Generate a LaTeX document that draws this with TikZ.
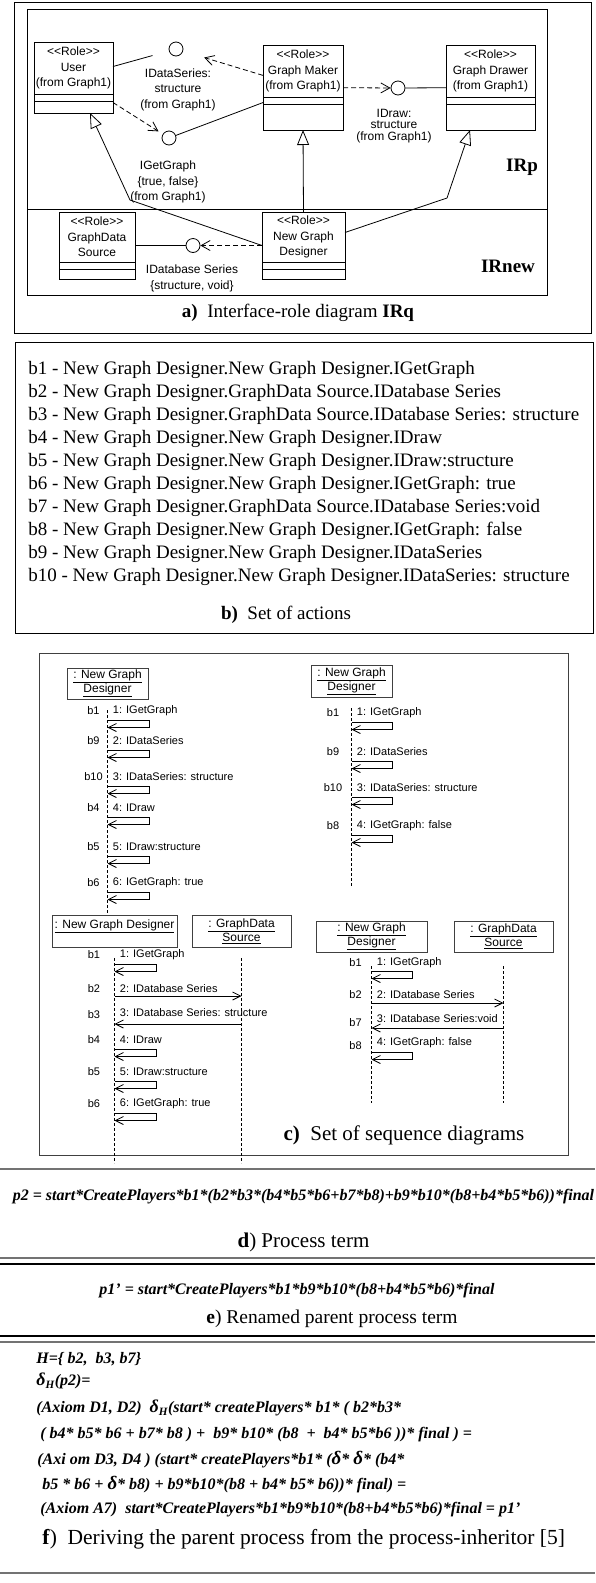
\documentclass[tikz,border=0pt]{standalone}
\usepackage{fontspec}
\setmainfont{Liberation Serif}
\newfontfamily\umlfont{Liberation Sans}
\usetikzlibrary{arrows.meta,calc}

\newcommand{\delH}{{\fontsize{18}{18}\selectfont δ}\textsubscript{H}}
\newcommand{\bigdel}{{\fontsize{19}{19}\selectfont δ}}

\tikzset{
  rolebox/.style={draw, fill=white, inner sep=0pt, outer sep=0pt, anchor=north west},
  iface/.style={circle, draw, fill=white, minimum size=14pt, inner sep=0pt},
  umltxt/.style={font=\umlfont\fontsize{12}{15.5}\selectfont, align=center, inner sep=0pt},
  dep/.style={dash pattern=on 5pt off 3pt, -{Straight Barb[length=9pt,width=10pt]}},
  gen/.style={-{Triangle[fill=white,length=15pt,width=12pt]}},
  objbox/.style={draw=black!75, fill=white, inner sep=0pt, align=center, font=\umlfont\fontsize{12}{14}\selectfont},
  life/.style={dash pattern=on 3pt off 2pt},
  msg/.style={-{Straight Barb[length=8pt,width=8pt]}},
  seqtxt/.style={font=\umlfont\fontsize{11}{13}\selectfont, inner sep=0pt},
  serif/.style={font=\fontsize{19}{23}\selectfont, inner sep=0pt},
  formula/.style={font=\fontsize{16}{19}\selectfont\bfseries\itshape, inner sep=0pt, anchor=west},
  sepline/.style={line width=1.6pt, black!55},
}

\begin{document}
\begin{tikzpicture}[x=1pt, y=-1pt, line width=0.8pt]
		\useasboundingbox (0,0) rectangle (595,1583);
		
		% a) Interface-role diagram
		\node[draw, inner sep=0pt, minimum width=577, minimum height=331, anchor=north west] (partA) at (14,2) {};
		\node[draw, inner sep=0pt, minimum width=520, minimum height=286, anchor=north west] (irq) at (27,9) {};
		\draw (27,209) -- (547,209);
		
		% Roles
		\foreach \nm/\x/\y/\w/\h/\nh/\txt in {user/34/42/79/71/52/{User\\(from Graph1)}, maker/263/45/80/85/52/{Graph Maker\\(from Graph1)}, drawer/446/45/89/85/52/{Graph Drawer\\(from Graph1)}, gds/59/212/76/67/50/{GraphData\\Source}, ngd/262/212/83/67/50/{New Graph\\Designer}} {
			\node[rolebox, minimum width=\w, minimum height=\h] (\nm) at (\x,\y) {};
			\node[umltxt] (\nm name) at (\x+\w/2,\y+\nh/2) {<{}<Role>{}>\\\txt};
			\draw (\x,\y+\nh) -- ++(\w,0) (\x,\y+\nh+7) -- ++(\w,0);
		}
		
		% Interfaces
		\node[iface] (ids) at (176,49) {};
		\node[iface] (iget) at (169,138) {};
		\node[iface] (idraw) at (398,88) {};
		\node[iface] (idb) at (193,245.5) {};
		\node[umltxt] (ids lbl) at (178,89.5) {IDataSeries:\\structure\\(from Graph1)};
		\node[umltxt] (iget lbl) at (168,182) {IGetGraph\\\{true, false\}\\(from Graph1)};
		\node[umltxt, font=\umlfont\fontsize{12}{11.5}\selectfont] (idraw lbl) at (394,126) {IDraw:\\structure\\(from Graph1)};
		\node[umltxt] (idb lbl) at (192,278.5) {IDatabase Series\\\{structure, void\}};
		
		% Connectors
		\draw[shorten >=17pt] (user) -- (ids);
		\draw[dep, shorten >=22pt] (maker) -- (ids);
		\draw[dep, shorten >=5pt] (user) -- (iget);
		\draw (maker) -- (iget);
		\draw[dep] (maker) -- (idraw);
		\draw (idraw) -- (drawer);
		\draw (gds) -- (idb);
		\draw[dep] (ngd) -- (idb);
		\draw[gen] (ngd.west) -- (130,200) -- ($(user.south)+(16.5,0)$);
		\draw[gen] (ngd.north) -- (maker.south);
		\draw[gen] ($(ngd.east)+(0,-13)$) -- (447,198) -- ($(drawer.south)+(-20.5,0)$);
		
		\node[font=\fontsize{19}{19}\selectfont\bfseries] (irp) at (522,167) {IRp};
		\node[font=\fontsize{19}{19}\selectfont\bfseries] (irnew) at (508,266) {IRnew};
		\node[serif] (capA) at (298,313) {\textbf{a)}~ Interface-role diagram \textbf{IRq}};
		
		% b) Set of actions
		\node[draw, inner sep=0pt, minimum width=578, minimum height=291, anchor=north west] (partB) at (15,342) {};
		\foreach \i/\txt in {1/New Graph Designer.New Graph Designer.IGetGraph, 2/New Graph Designer.GraphData Source.IDatabase Series, 3/New Graph Designer.GraphData Source.IDatabase Series: structure, 4/New Graph Designer.New Graph Designer.IDraw, 5/New Graph Designer.New Graph Designer.IDraw:structure, 6/New Graph Designer.New Graph Designer.IGetGraph: true, 7/New Graph Designer.GraphData Source.IDatabase Series:void, 8/New Graph Designer.New Graph Designer.IGetGraph: false, 9/New Graph Designer.New Graph Designer.IDataSeries, 10/New Graph Designer.New Graph Designer.IDataSeries: structure} {
			\node[serif, anchor=west] (act\i) at (28,347+23*\i) {b\i{} - \txt};
		}
		\node[serif] (capB) at (286,615) {\textbf{b)}~ Set of actions};
		
		% c) Set of sequence diagrams
		\node[draw=black!75, inner sep=0pt, minimum width=529, minimum height=502, anchor=north west] (partC) at (39,653) {};
		
		% upper left
		\node[objbox, minimum width=81, minimum height=31] (ngdA) at (107.5,683.5) {\underline{: New Graph}\\\underline{Designer}};
		\draw[life] ($(ngdA.south)+(0,11)$) -- ++(0,203);
		\foreach \lbl/\txt/\ty in {b1/1: IGetGraph/720, b9/2: IDataSeries/750, b10/3: IDataSeries: structure/786, b4/4: IDraw/817, b5/5: IDraw:structure/856, b6/6: IGetGraph: true/892} {
			\node[seqtxt] (labA\lbl) at (93.5,\ty-9) {\lbl};
			\node[seqtxt, anchor=west] (msgA\lbl) at (112.5,\ty-9) {\txt};
			\draw[msg] (107.5,\ty) -- ++(42,0) -- ++(0,7.5) -- (107.5,\ty+7.5);
		}
		
		% upper right
		\node[objbox, minimum width=81, minimum height=32] (ngdB) at (351.5,681) {\underline{: New Graph}\\\underline{Designer}};
		\draw[life] ($(ngdB.south)+(0,11)$) -- ++(0,179);
		\foreach \lbl/\txt/\ty in {b1/1: IGetGraph/722, b9/2: IDataSeries/761, b10/3: IDataSeries: structure/797, b8/4: IGetGraph: false/835} {
			\node[seqtxt] (labB\lbl) at (333,\ty-9) {\lbl};
			\node[seqtxt, anchor=west] (msgB\lbl) at (356.5,\ty-9) {\txt};
			\draw[msg] (351.5,\ty) -- ++(41,0) -- ++(0,7.5) -- (351.5,\ty+7.5);
		}
		
		% lower left
		\node[objbox, minimum width=125, minimum height=32] (ngdC) at (114.5,931) {\underline{: New Graph Designer}\\~};
		\node[objbox, minimum width=99, minimum height=32] (gdsC) at (241.5,931) {\underline{: GraphData}\\\underline{Source}};
		\draw[life] ($(ngdC.south)+(0,11)$) -- ++(0,205);
		\draw[life] ($(gdsC.south)+(0,11)$) -- ++(0,205);
		\foreach \lbl/\txt/\ty in {b1/1: IGetGraph/964, b4/4: IDraw/1049, b5/5: IDraw:structure/1081, b6/6: IGetGraph: true/1113} {
			\node[seqtxt] (labC\lbl) at (94,\ty-9) {\lbl};
			\node[seqtxt, anchor=west] (msgC\lbl) at (119.5,\ty-9) {\txt};
			\draw[msg] (114.5,\ty) -- ++(42,0) -- ++(0,7.5) -- (114.5,\ty+7.5);
		}
		\node[seqtxt] (labCb2) at (94,989) {b2};
		\node[seqtxt, anchor=west] (msgCb2) at (119.5,989) {2: IDatabase Series};
		\draw[msg] (114.5,996) -- (241.5,996);
		\node[seqtxt] (labCb3) at (94,1015) {b3};
		\node[seqtxt, anchor=west] (msgCb3) at (119.5,1013) {3: IDatabase Series: structure};
		\draw[msg] (241.5,1024) -- (114.5,1024);
		
		% lower right
		\node[objbox, minimum width=111, minimum height=31] (ngdD) at (371.5,936.5) {\underline{: New Graph}\\\underline{Designer}};
		\node[objbox, minimum width=99, minimum height=31] (gdsD) at (503.5,936.5) {\underline{: GraphData}\\\underline{Source}};
		\draw[life] ($(ngdD.south)+(0,14)$) -- ++(0,137);
		\draw[life] ($(gdsD.south)+(0,14)$) -- ++(0,137);
		\node[seqtxt] (labDb1) at (355.5,963) {b1};
		\node[seqtxt, anchor=west] (msgDb1) at (376.5,963) {1: IGetGraph};
		\draw[msg] (371.5,971) -- ++(41,0) -- ++(0,7.5) -- (371.5,978.5);
		\node[seqtxt] (labDb2) at (355.5,995) {b2};
		\node[seqtxt, anchor=west] (msgDb2) at (376.5,995) {2: IDatabase Series};
		\draw[msg] (371.5,1003) -- (503.5,1003);
		\node[seqtxt] (labDb7) at (355.5,1023) {b7};
		\node[seqtxt, anchor=west] (msgDb7) at (376.5,1019) {3: IDatabase Series:void};
		\draw[msg] (503.5,1028) -- (371.5,1028);
		\node[seqtxt] (labDb8) at (355.5,1046) {b8};
		\node[seqtxt, anchor=west] (msgDb8) at (376.5,1043) {4: IGetGraph: false};
		\draw[msg] (371.5,1052) -- ++(41,0) -- ++(0,7.5) -- (371.5,1059.5);
		
		\node[serif, font=\fontsize{21}{21}\selectfont] (capC) at (404,1135) {\textbf{c)}~ Set of sequence diagrams};
		
		% d) Process term
		\draw[sepline] (0,1169) -- (595,1169);
		\node[formula, anchor=center] (ptwo) at (303.5,1197) {p2 = start*CreatePlayers*b1*(b2*b3*(b4*b5*b6+b7*b8)+b9*b10*(b8+b4*b5*b6))*final};
		\node[serif, font=\fontsize{21}{21}\selectfont] (capD) at (303.5,1242) {\textbf{d})~Process term};
		\draw[sepline] (0,1258) -- (595,1258);
		\draw[line width=1.2pt] (0,1264) -- (595,1264);
		
		% e) Renamed parent process term
		\node[formula, anchor=center] (poner) at (297,1291) {p1' = start*CreatePlayers*b1*b9*b10*(b8+b4*b5*b6)*final};
		\node[serif, font=\fontsize{19.5}{19.5}\selectfont] (capE) at (332,1319) {\textbf{e})~Renamed parent process term};
		\draw[line width=1.2pt] (0,1336) -- (595,1336);
		\draw[sepline] (0,1342) -- (595,1342);
		
		% f) Deriving the parent process
		\node[formula] (fH) at (36,1359) {H=\{ b2,~ b3, b7\}};
		\node[formula] (fdel) at (36,1381) {\delH(p2)=};
		\node[formula] (fone) at (36,1408) {(Axiom D1, D2)~ \delH(start* createPlayers* b1* ( b2*b3*};
		\node[formula] (ftwo) at (40,1435) {( b4* b5* b6 + b7* b8 ) +~ b9* b10* (b8~ +~ b4* b5*b6 ))* final ) =};
		\node[formula] (fthree) at (37,1460) {(Axi om D3, D4 ) (start* createPlayers*b1* (\bigdel* \bigdel* (b4*};
		\node[formula] (ffour) at (42,1485) {b5 * b6 + \bigdel* b8) + b9*b10*(b8 + b4* b5* b6))* final) =};
		\node[formula] (ffive) at (40,1510) {(Axiom A7)~ start*CreatePlayers*b1*b9*b10*(b8+b4*b5*b6)*final = p1'};
		\node[serif, font=\fontsize{21.5}{21.5}\selectfont, anchor=west] (capF) at (42,1539) {\textbf{f})~ Deriving the parent process from the process-inheritor [5]};
		\draw[sepline] (0,1573) -- (595,1573);
	\end{tikzpicture}
\end{document}
